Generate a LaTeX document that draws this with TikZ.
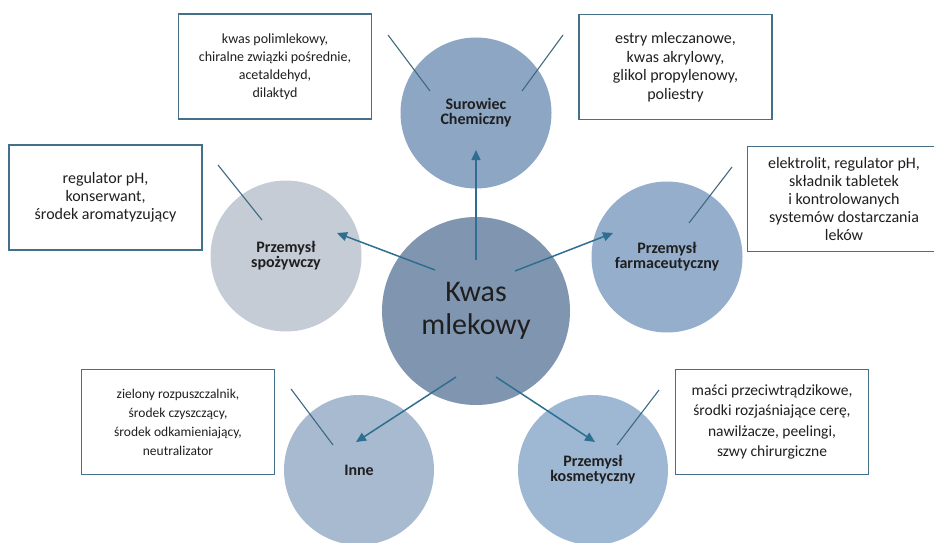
\documentclass[tikz,border=0pt]{standalone}
\usepackage{fontspec}
\setmainfont{Carlito}
\usetikzlibrary{arrows.meta,calc}
\definecolor{hubfill}{HTML}{8096B0}
\definecolor{surfill}{HTML}{8DA6C4}
\definecolor{foodfill}{HTML}{C5CCD6}
\definecolor{pharmfill}{HTML}{94AECC}
\definecolor{otherfill}{HTML}{A8BACF}
\definecolor{cosmfill}{HTML}{9EB7D3}
\definecolor{boxline}{HTML}{45708A}
\definecolor{tickline}{HTML}{3F6A80}
\definecolor{arrowline}{HTML}{2E6F91}
\definecolor{inkdark}{HTML}{1F1F1F}
\tikzset{
  hub/.style={circle, fill=hubfill, minimum size=188pt, inner sep=0pt, align=center, text=inkdark, font=\fontsize{30}{33.5}\selectfont},
  area/.style={circle, minimum size=151pt, inner sep=0pt, align=center, text=inkdark, font=\fontsize{16}{15}\selectfont\bfseries},
  usebox/.style={draw=boxline, line width=1.2pt, fill=white, minimum width=193pt, minimum height=105pt, inner sep=2pt, align=center, text=inkdark, font=\fontsize{13.5}{18.5}\selectfont},
  tick/.style={draw=tickline, line width=1.1pt},
  arr/.style={draw=arrowline, line width=1.5pt, -{Triangle[length=10pt, width=9pt]}},
}
\begin{document}
\begin{tikzpicture}[x=1pt, y=-1pt]
  \useasboundingbox (0,0) rectangle (934,543);
  \clip (0,0) rectangle (934,543);

  % Central circle and application areas
  \node[hub] (kwas) at (476,311) {Kwas\\mlekowy};
  \node[area, fill=surfill] (sur) at (476,113) {Surowiec\\Chemiczny};
  \node[area, fill=foodfill] (food) at (286,256) {Przemysł\\spożywczy};
  \node[area, fill=pharmfill] (pharm) at (667,257) {Przemysł\\farmaceutyczny};
  \node[area, fill=otherfill, minimum size=150pt] (other) at (359,470) {Inne};
  \node[area, fill=cosmfill, minimum size=150pt] (cosm) at (593,470) {Przemysł\\kosmetyczny};

  % Product boxes
  \node[usebox, font=\fontsize{14}{18}\selectfont] (chem1) at (275,66.5) {kwas polimlekowy,\\chiralne związki pośrednie,\\acetaldehyd,\\dilaktyd};
  \node[usebox, font=\fontsize{16}{18.5}\selectfont] (chem2) at (675.5,67) {estry mleczanowe,\\kwas akrylowy,\\glikol propylenowy,\\poliestry};
  \node[usebox, font=\fontsize{16}{18}\selectfont] (foodbox) at (105.5,197.5) {regulator pH,\\konserwant,\\środek aromatyzujący};
  \node[usebox, font=\fontsize{16}{17.8}\selectfont] (pharmbox) at (844,199) {elektrolit, regulator pH,\\składnik tabletek\\i kontrolowanych\\systemów dostarczania\\leków};
  \node[usebox, font=\fontsize{13.5}{19}\selectfont] (otherbox) at (178,422) {zielony rozpuszczalnik,\\środek czyszczący,\\środek odkamieniający,\\neutralizator};
  \node[usebox, font=\fontsize{15.5}{20.5}\selectfont] (cosmbox) at (772,422) {maści przeciwtrądzikowe,\\środki rozjaśniające cerę,\\nawilżacze, peelingi,\\szwy chirurgiczne};

  % Pointer lines from boxes
  \foreach \c/\ax/\ay/\bx/\by in {sur/-88/-78/-46/-22, sur/87/-78/46/-22,
      food/-68/-91/-24/-36, pharm/65/-90/22/-34,
      other/-68/-81/-26/-25, cosm/66/-80/24/-25} {
    \draw[tick] ($(\c)+(\ax,\ay)$) -- ($(\c)+(\bx,\by)$);
  }

  % Arrows from the centre
  \draw[arr] ($(kwas)+(0,-51)$) -- ($(sur)+(0,37)$);
  \draw[arr] ($(kwas)+(-41,-41)$) -- ($(food)+(51,-23)$);
  \draw[arr] ($(kwas)+(39,-40)$) -- ($(pharm)+(-54,-24)$);
  \draw[arr] ($(kwas)+(-20,66)$) -- ($(other)+(-3,-28)$);
  \draw[arr] ($(kwas)+(20,66)$) -- ($(cosm)+(2,-28)$);
\end{tikzpicture}
\end{document}
